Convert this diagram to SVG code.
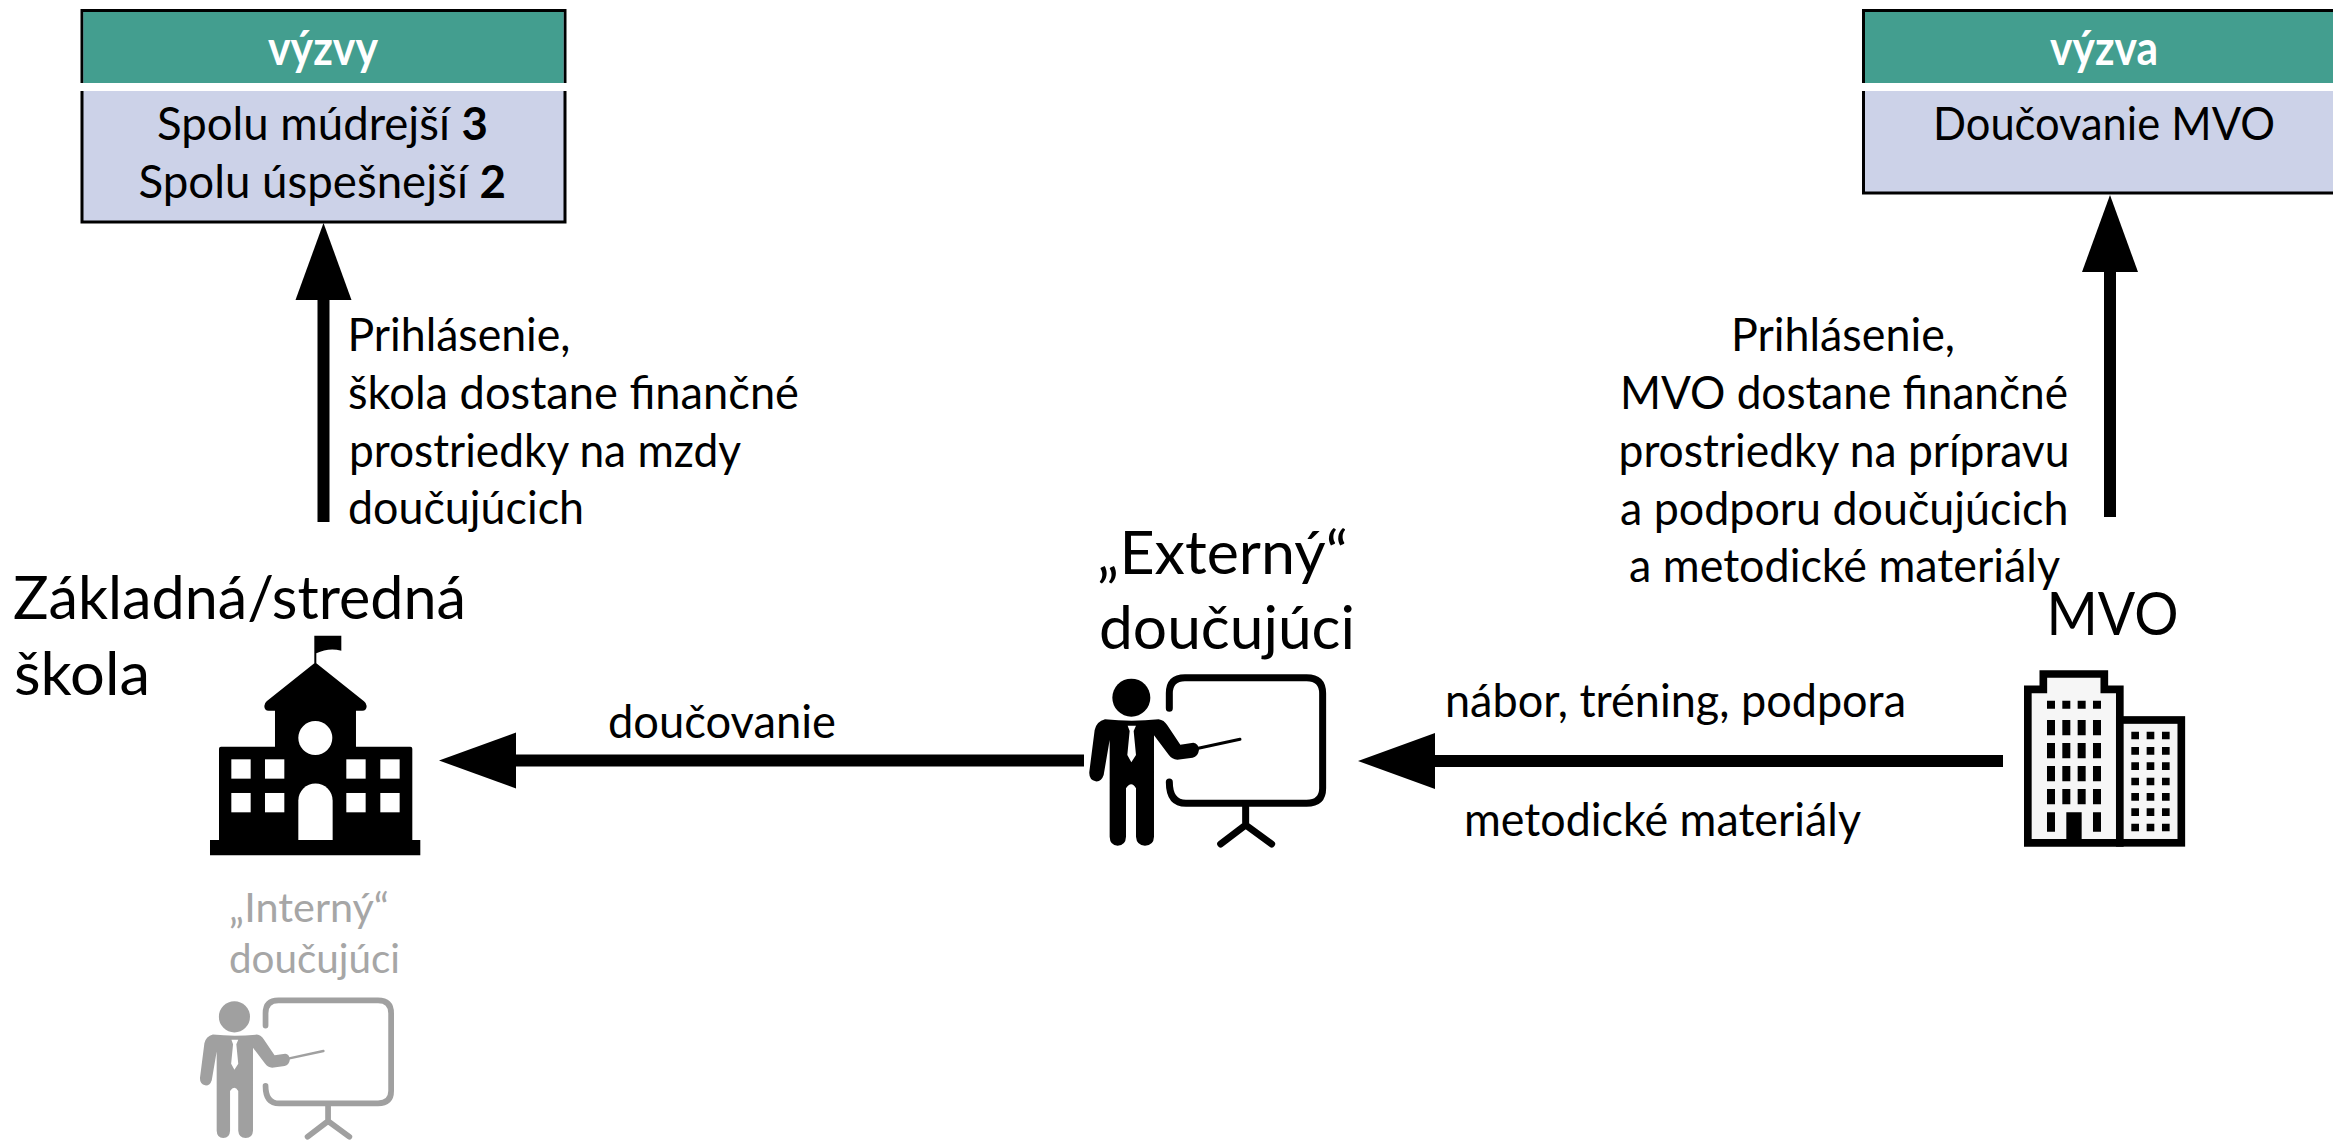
<svg xmlns="http://www.w3.org/2000/svg" xmlns:xlink="http://www.w3.org/1999/xlink" width="2333" height="1141" viewBox="0 0 2333 1141">
<style>
text{font-family:Lato,"Carlito","Noto Sans",sans-serif;fill:#000;font-size:46px}
.b{font-weight:700}
.h{fill:#fff;font-weight:700;font-size:47px}
.big{font-size:60px}
.gr{fill:#a6a6a6;font-size:41px}
.green{fill:#439e8f}
.lav{fill:#ccd2e8;stroke:#000;stroke-width:3}
.shaft{stroke:#000;stroke-width:12;fill:none}
</style>
<defs>
<marker id="head" markerUnits="userSpaceOnUse" markerWidth="77" markerHeight="56" viewBox="0 0 77 56" refX="0" refY="28" orient="auto" overflow="visible"><polygon points="0,0 77,28 0,56" fill="#000"/></marker>
<g id="teacher">
<circle cx="214" cy="113" r="57"/>
<path d="M135,178 Q215,186 296,178 Q312,180 322,196 L361,254 L400,248 Q416,250 417,270 Q414,290 398,293 L352,299 Q336,298 326,284 L282,226 L282,530 Q281,556 255,557 Q230,556 228,530 L228,385 Q214,360 198,385 L198,530 Q197,556 173,557 Q150,556 149,530 L149,240 L131,345 Q124,366 107,364 Q86,360 88,335 L104,210 Q110,184 135,178Z"/>
<path d="M203,197 H228 L221,213 L228,285 L214,307 L202,285 L209,213Z" fill="#fff"/>
<path d="M415,265 L540,238" fill="none" stroke="currentColor" stroke-width="9" stroke-linecap="round"/>
<path d="M328,145 V100 Q328,53 375,53 H740 Q788,53 788,100 V385 Q788,430 740,430 H378 Q328,430 328,366 M557,430 V495 M557,495 L482,552 M557,495 L635,552" fill="none" stroke="currentColor" stroke-width="21" stroke-linecap="round"/>
</g>
</defs>

<g id="connectors">
<line class="shaft" x1="323.500" y1="522" x2="323.500" y2="300" marker-end="url(#head)"/>
<line class="shaft" x1="2110" y1="517" x2="2110" y2="272" marker-end="url(#head)"/>
<line class="shaft" x1="1084" y1="760.500" x2="516" y2="760.500" marker-end="url(#head)"/>
<line class="shaft" x1="2003" y1="761" x2="1435" y2="761" marker-end="url(#head)"/>
</g>

<g id="box-vyzvy">
<rect class="lav" x="82" y="10.500" width="483" height="211.500"/>
<rect class="green" x="83.500" y="12" width="480" height="72"/>
<rect x="80" y="83" width="487" height="8" fill="#fff"/>
<text class="h" x="268" y="65" textLength="110" lengthAdjust="spacingAndGlyphs">výzvy</text>
<text x="157" y="140" textLength="331" lengthAdjust="spacingAndGlyphs">Spolu múdrejší <tspan class="b">3</tspan></text>
<text x="138.500" y="198" textLength="367.500" lengthAdjust="spacingAndGlyphs">Spolu úspešnejší <tspan class="b">2</tspan></text>
</g>

<g id="box-vyzva">
<rect class="lav" x="1863.500" y="10.500" width="483" height="182.500"/>
<rect class="green" x="1865" y="12" width="480" height="72"/>
<rect x="1860" y="83" width="487" height="8" fill="#fff"/>
<text class="h" x="2050" y="65" textLength="108" lengthAdjust="spacingAndGlyphs">výzva</text>
<text x="1933" y="140" textLength="342" lengthAdjust="spacingAndGlyphs">Doučovanie MVO</text>
</g>

<g id="label-skola">
<text x="347.500" y="351" textLength="223" lengthAdjust="spacingAndGlyphs">Prihlásenie,</text>
<text x="348" y="409" textLength="451" lengthAdjust="spacingAndGlyphs">škola dostane finančné</text>
<text x="349" y="466.500" textLength="392" lengthAdjust="spacingAndGlyphs">prostriedky na mzdy</text>
<text x="348" y="524" textLength="236" lengthAdjust="spacingAndGlyphs">doučujúcich</text>
</g>

<g id="label-mvo">
<text x="1731" y="351" textLength="224" lengthAdjust="spacingAndGlyphs">Prihlásenie,</text>
<text x="1620" y="409" textLength="448" lengthAdjust="spacingAndGlyphs">MVO dostane finančné</text>
<text x="1618.500" y="466.500" textLength="451" lengthAdjust="spacingAndGlyphs">prostriedky na prípravu</text>
<text x="1620" y="524.500" textLength="448.500" lengthAdjust="spacingAndGlyphs">a podporu doučujúcich</text>
<text x="1629" y="582" textLength="431" lengthAdjust="spacingAndGlyphs">a metodické materiály</text>
</g>

<g id="node-skola">
<text class="big" x="13" y="619" textLength="453" lengthAdjust="spacingAndGlyphs">Základná/stredná</text>
<text class="big" x="14" y="695" textLength="136" lengthAdjust="spacingAndGlyphs">škola</text>
<g transform="translate(180,620) scale(0.3333)">
<path d="M90,660 H117 V386 Q117,380 123,380 H285 V272 H266 Q253,272 253,258 Q253,250 260,244 L403,130 V47 H484 V92 Q445,82 409,100 V130 L552,244 Q560,250 560,258 Q560,272 547,272 H528 V380 H691 Q697,380 697,386 V660 H721 V706 H90Z"/>
<g fill="#fff">
<circle cx="406" cy="354" r="51"/>
<rect x="154" y="418" width="58" height="58"/><rect x="255" y="418" width="58" height="58"/><rect x="499" y="418" width="58" height="58"/><rect x="601" y="418" width="58" height="58"/>
<rect x="154" y="519" width="58" height="58"/><rect x="255" y="519" width="58" height="58"/><rect x="499" y="519" width="58" height="58"/><rect x="601" y="519" width="58" height="58"/>
<path d="M355,660 V542 A51,51 0 0 1 458,542 V660Z"/>
</g>
</g>
</g>

<g id="node-externy">
<text class="big" x="1097" y="574" textLength="251" lengthAdjust="spacingAndGlyphs">„Externý“</text>
<text class="big" x="1099" y="649" textLength="256" lengthAdjust="spacingAndGlyphs">doučujúci</text>
<use xlink:href="#teacher" href="#teacher" transform="translate(1060,660) scale(0.3333)" fill="#000" color="#000"/>
</g>

<g id="node-mvo">
<text class="big" x="2046.500" y="635" textLength="132" lengthAdjust="spacingAndGlyphs">MVO</text>
<g transform="translate(2000,650) scale(0.3333)">
<path d="M130,72 H313 V118 H359.500 V578.500 H83.500 V118 H130Z" fill="#f6f6f6" stroke="#000" stroke-width="23"/>
<rect x="359.500" y="210" width="184.500" height="368.500" fill="#f6f6f6" stroke="#000" stroke-width="23"/>
<path d="M141,152h24v24h-24z M187,152h24v24h-24z M233,152h24v24h-24z M279,152h24v24h-24z
M141,210h24v46h-24z M187,210h24v46h-24z M233,210h24v46h-24z M279,210h24v46h-24z
M141,279h24v46h-24z M187,279h24v46h-24z M233,279h24v46h-24z M279,279h24v46h-24z
M141,348h24v46h-24z M187,348h24v46h-24z M233,348h24v46h-24z M279,348h24v46h-24z
M141,417h24v46h-24z M187,417h24v46h-24z M233,417h24v46h-24z M279,417h24v46h-24z
M141,487h24v58h-24z M279,487h24v58h-24z M199,487h46v85h-46z
M394,245h23v23h-23z M440,245h23v23h-23z M486,245h23v23h-23z
M394,291h23v23h-23z M440,291h23v23h-23z M486,291h23v23h-23z
M394,337h23v23h-23z M440,337h23v23h-23z M486,337h23v23h-23z
M394,383h23v23h-23z M440,383h23v23h-23z M486,383h23v23h-23z
M394,429h23v23h-23z M440,429h23v23h-23z M486,429h23v23h-23z
M394,475h23v23h-23z M440,475h23v23h-23z M486,475h23v23h-23z
M394,521h23v23h-23z M440,521h23v23h-23z M486,521h23v23h-23z"/>
</g>
</g>

<g id="node-interny">
<text class="gr" x="229" y="922" textLength="160" lengthAdjust="spacingAndGlyphs">„Interný“</text>
<text class="gr" x="229" y="973" textLength="171" lengthAdjust="spacingAndGlyphs">doučujúci</text>
<use xlink:href="#teacher" href="#teacher" transform="translate(176,986) scale(0.273)" fill="#a0a0a0" color="#a0a0a0"/>
</g>

<g id="connector-labels">
<text x="608" y="738" textLength="228" lengthAdjust="spacingAndGlyphs">doučovanie</text>
<text x="1445" y="717" textLength="461" lengthAdjust="spacingAndGlyphs">nábor, tréning, podpora</text>
<text x="1464" y="836" textLength="397" lengthAdjust="spacingAndGlyphs">metodické materiály</text>
</g>
</svg>
